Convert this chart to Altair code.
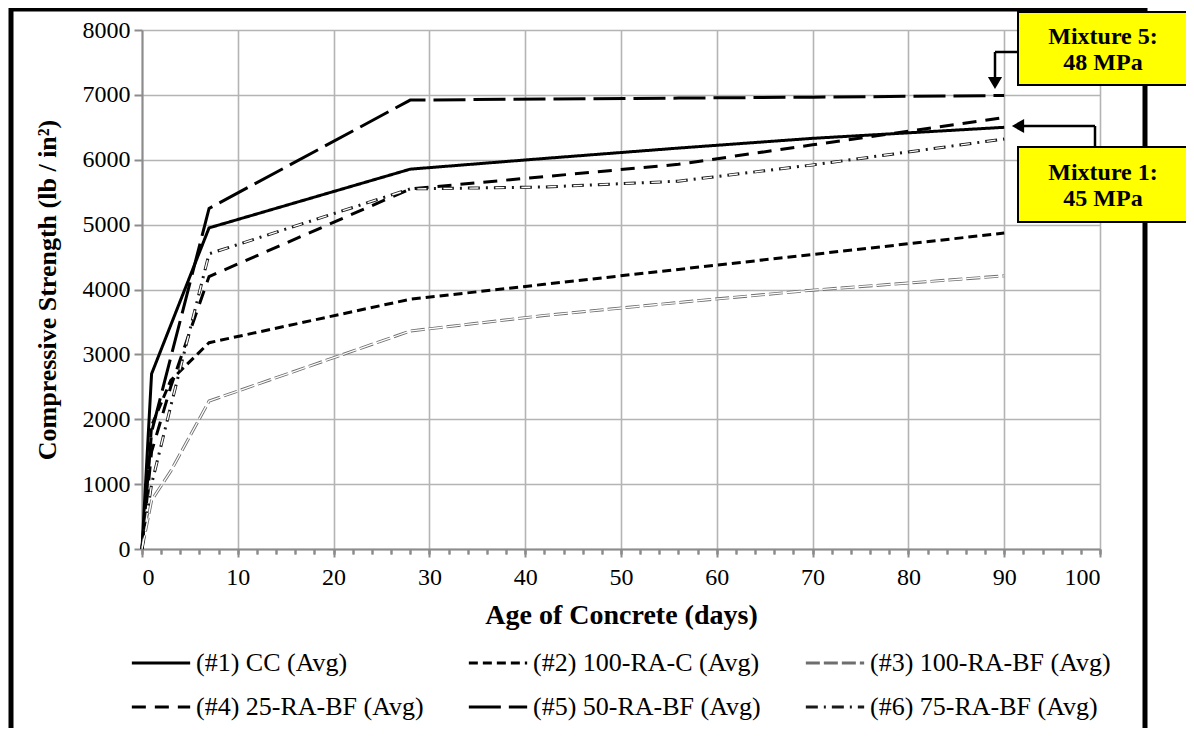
import altair as alt
import pandas as pd

# ---- data -------------------------------------------------------------
days = [0, 1, 3, 7, 28, 42, 56, 70, 90]
series_names = [
    "(#1) CC (Avg)",
    "(#2) 100-RA-C (Avg)",
    "(#3) 100-RA-BF (Avg)",
    "(#4) 25-RA-BF (Avg)",
    "(#5) 50-RA-BF (Avg)",
    "(#6) 75-RA-BF (Avg)",
]
cc_1 = [0, 2700, 3450, 4950, 5855, 6020, 6180, 6330, 6500]
ra_c_100 = [0, 1900, 2600, 3180, 3850, 4080, 4310, 4540, 4870]
ra_bf_100 = [0, 750, 1200, 2280, 3360, 3600, 3800, 3990, 4210]
ra_bf_25 = [0, 1500, 2500, 4200, 5550, 5740, 5930, 6230, 6650]
ra_bf_50 = [0, 1800, 2950, 5250, 6920, 6935, 6950, 6965, 6990]
ra_bf_75 = [0, 1000, 2200, 4550, 5550, 5580, 5670, 5920, 6320]

x_ticks = list(range(0, 101, 10))
x_minor = list(range(0, 101, 2))
y_ticks = list(range(0, 8001, 1000))

note_5 = ["Mixture 5:", "48 MPa"]
note_1 = ["Mixture 1:", "45 MPa"]

# ---- tables -------------------------------------------------------------
rows = []
for name, vals in zip(series_names, [cc_1, ra_c_100, ra_bf_100, ra_bf_25, ra_bf_50, ra_bf_75]):
    for d, v in zip(days, vals):
        rows.append({"series": name, "age": d, "strength": v})
df = pd.DataFrame(rows)

W, H = 958, 519
FONT = "Liberation Serif, Times New Roman, Times, serif"
AXC = "#8c8c8c"

x_scale = alt.Scale(domain=[0, 100], nice=False, zero=False)
y_scale = alt.Scale(domain=[0, 8000], nice=False)

colors = ["#000000", "#000000", "#6e6e6e", "#000000", "#000000", "#1a1a1a"]
dashes = [[1, 0], [9, 5], [14, 4], [14, 9], [32, 8], [12, 6, 2, 6]]
widths = [3, 3, 4.5, 3, 3, 4]

legend = alt.Legend(
    orient="none", legendX=-12, legendY=602, columns=3, direction="horizontal",
    title=None, symbolType="stroke", symbolSize=3400, symbolStrokeWidth=3,
    labelFont=FONT, labelFontSize=26, labelColor="black", labelLimit=500,
    columnPadding=38, rowPadding=-2, labelOffset=4,
)

x_axis_main = alt.Axis(
    values=x_ticks, title="Age of Concrete (days)", orient="bottom",
    labelFont=FONT, labelFontSize=24, labelColor="black", labelPadding=8,
    titleFont=FONT, titleFontSize=28, titleFontWeight="bold", titleColor="black",
    titlePadding=12, domainColor=AXC, domainWidth=2, tickColor=AXC, tickWidth=2,
    tickSize=8, gridColor="#b4b4b4", gridWidth=1.6)

y_axis_main = alt.Axis(
    values=y_ticks, format="d", title="Compressive Strength (lb / in²)",
    labelFont=FONT, labelFontSize=24, labelColor="black", labelPadding=4,
    titleFont=FONT, titleFontSize=26, titleFontWeight="bold", titleColor="black",
    titlePadding=22, domainColor=AXC, domainWidth=2, tickColor=AXC, tickWidth=2,
    tickSize=8, gridColor="#b4b4b4", gridWidth=1.6)

x_axis_minor = alt.Axis(
    orient="bottom", values=x_minor, labels=False, domain=False, grid=False,
    tickSize=5, tickColor=AXC, tickWidth=2, title=None)

base = alt.Chart(df)
Y = alt.Y("strength:Q", scale=y_scale, axis=y_axis_main)

lines = base.mark_line(interpolate="linear").encode(
    x=alt.X("age:Q", scale=x_scale, axis=x_axis_main),
    y=Y,
    color=alt.Color("series:N", scale=alt.Scale(domain=series_names, range=colors), legend=legend),
    strokeDash=alt.StrokeDash("series:N", scale=alt.Scale(domain=series_names, range=dashes), legend=legend),
    strokeWidth=alt.StrokeWidth("series:N", scale=alt.Scale(domain=series_names, range=widths), legend=legend),
    order=alt.Order("age:Q"),
)

# white cores give the hollow "double line" look of #3 and the hollow ovals of #6
core3 = base.transform_filter(alt.datum.series == series_names[2]).mark_line(
    interpolate="linear", color="white", strokeWidth=1.3, strokeDash=[14, 4]
).encode(
    x=alt.X("age:Q", scale=x_scale, axis=x_axis_minor),
    y=Y,
    order=alt.Order("age:Q"),
)
core6 = base.transform_filter(alt.datum.series == series_names[5]).mark_line(
    interpolate="linear", color="white", strokeWidth=1.4, strokeDash=[0, 1.5, 9, 15.5]
).encode(
    x=alt.X("age:Q", scale=x_scale, axis=x_axis_minor),
    y=Y,
    order=alt.Order("age:Q"),
)

one = alt.Data(values=[{"k": 1}])

frame = alt.Chart(one).mark_rect(fillOpacity=0, stroke="black", strokeWidth=5).encode(
    x=alt.value(-131), x2=alt.value(1003), y=alt.value(-21), y2=alt.value(760)
)

box5 = alt.Chart(one).mark_rect(fill="#ffff00", stroke="black", strokeWidth=2).encode(
    x=alt.value(876), x2=alt.value(1046), y=alt.value(-18), y2=alt.value(55)
)
box1 = alt.Chart(one).mark_rect(fill="#ffff00", stroke="black", strokeWidth=2).encode(
    x=alt.value(876), x2=alt.value(1046), y=alt.value(117), y2=alt.value(192)
)

def txt(s, y):
    return alt.Chart(one).mark_text(
        font=FONT, fontSize=24, fontWeight="bold", color="black",
        align="center", baseline="middle"
    ).encode(x=alt.value(961), y=alt.value(y), text=alt.value(s))

texts = [txt(note_5[0], 7), txt(note_5[1], 33), txt(note_1[0], 143), txt(note_1[1], 169)]

def rule(x1, x2, y1, y2):
    return alt.Chart(one).mark_rule(color="black", strokeWidth=2.5).encode(
        x=alt.value(x1), x2=alt.value(x2), y=alt.value(y1), y2=alt.value(y2))

arrow_parts = [
    rule(876, 853, 22, 22),
    rule(853, 853, 22, 50),
    rule(953, 953, 117, 96),
    rule(953, 880, 96, 96),
]
tri_down = alt.Chart(one).mark_point(shape="triangle-down", filled=True, color="black",
                                     size=200, opacity=1).encode(x=alt.value(853), y=alt.value(53))
tri_left = alt.Chart(one).mark_point(shape="triangle-left", filled=True, color="black",
                                     size=200, opacity=1).encode(x=alt.value(876), y=alt.value(96))

chart = alt.layer(
    lines, core3, core6, frame, *arrow_parts, tri_down, tri_left, box5, box1, *texts
).resolve_axis(x="independent").properties(
    width=W, height=H,
    padding={"left": 134, "top": 22, "right": 86, "bottom": 179},
    autosize=alt.AutoSizeParams(type="none"),
    background="white",
).configure_view(stroke=None)

chart.save("out.html", embed_options={"renderer": "svg", "actions": False})
